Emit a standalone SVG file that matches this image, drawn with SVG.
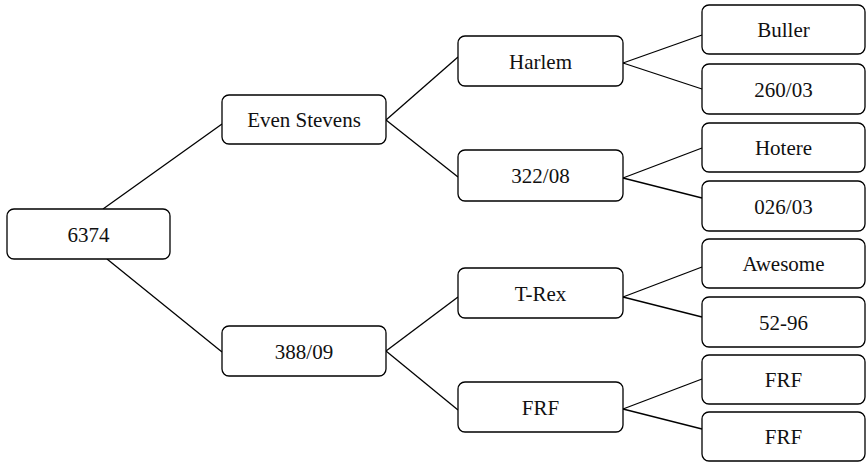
<svg xmlns="http://www.w3.org/2000/svg" width="866" height="462" viewBox="0 0 866 462">
<style>
.n rect{fill:#fff;stroke:#000;stroke-width:1.3}
.n text{font-family:'Liberation Serif','Times New Roman',serif;font-size:21px;fill:#111;text-anchor:middle}
#edges line{stroke:#000;stroke-width:1.3}
</style>
<rect width="866" height="462" fill="#fff"/>
<g id="edges">
<line x1="103" y1="209" x2="222" y2="124"/>
<line x1="107" y1="259" x2="222" y2="352"/>
<line x1="386" y1="120" x2="458" y2="57"/>
<line x1="386" y1="120" x2="458" y2="177"/>
<line x1="386" y1="351" x2="458" y2="297"/>
<line x1="386" y1="351" x2="458" y2="410"/>
<line x1="623" y1="63" x2="702" y2="35"/>
<line x1="623" y1="63" x2="702" y2="89"/>
<line x1="623" y1="178" x2="702" y2="148"/>
<line x1="623" y1="178" x2="702" y2="198"/>
<line x1="623" y1="297" x2="702" y2="267"/>
<line x1="623" y1="297" x2="702" y2="317"/>
<line x1="623" y1="409" x2="702" y2="379"/>
<line x1="623" y1="409" x2="702" y2="429"/>
</g>
<g id="n6374" class="n"><rect x="7" y="209" width="163" height="50" rx="7"/><text x="88.5" y="242">6374</text></g>
<g id="nEven" class="n"><rect x="222" y="95" width="164" height="49" rx="7"/><text x="304" y="127">Even Stevens</text></g>
<g id="n38809" class="n"><rect x="222" y="326" width="164" height="50" rx="7"/><text x="304" y="359">388/09</text></g>
<g id="nHarlem" class="n"><rect x="458" y="36" width="165" height="50" rx="7"/><text x="540.5" y="69">Harlem</text></g>
<g id="n32208" class="n"><rect x="458" y="150" width="165" height="51" rx="7"/><text x="540.5" y="183">322/08</text></g>
<g id="nTRex" class="n"><rect x="458" y="268" width="165" height="50" rx="7"/><text x="540.5" y="301">T-Rex</text></g>
<g id="nFRF1" class="n"><rect x="458" y="382" width="165" height="50" rx="7"/><text x="540.5" y="415">FRF</text></g>
<g id="nBuller" class="n"><rect x="702" y="5" width="163" height="49" rx="7"/><text x="783.5" y="37">Buller</text></g>
<g id="n26003" class="n"><rect x="702" y="64" width="163" height="50" rx="7"/><text x="783.5" y="97">260/03</text></g>
<g id="nHotere" class="n"><rect x="702" y="123" width="163" height="49" rx="7"/><text x="783.5" y="155">Hotere</text></g>
<g id="n02603" class="n"><rect x="702" y="181" width="163" height="50" rx="7"/><text x="783.5" y="214">026/03</text></g>
<g id="nAwesome" class="n"><rect x="702" y="239" width="163" height="49" rx="7"/><text x="783.5" y="271">Awesome</text></g>
<g id="n5296" class="n"><rect x="702" y="297" width="163" height="50" rx="7"/><text x="783.5" y="330">52-96</text></g>
<g id="nFRF2" class="n"><rect x="702" y="355" width="163" height="49" rx="7"/><text x="783.5" y="387">FRF</text></g>
<g id="nFRF3" class="n"><rect x="702" y="412" width="163" height="49" rx="7"/><text x="783.5" y="444">FRF</text></g>
</svg>
